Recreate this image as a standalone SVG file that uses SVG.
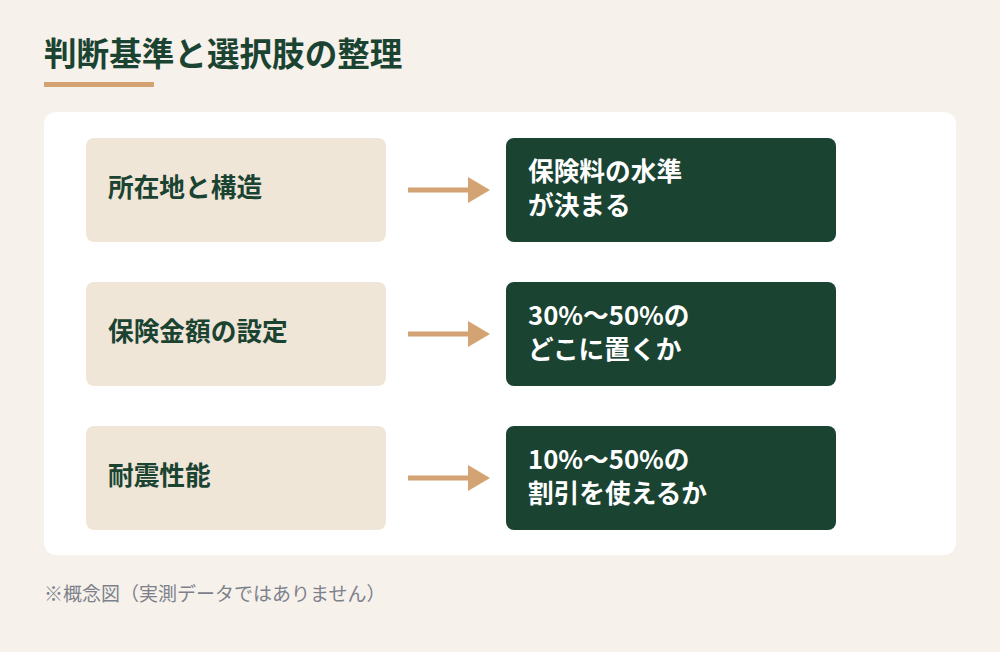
<svg xmlns="http://www.w3.org/2000/svg" width="1000" height="652" viewBox="0 0 1000 652">
<style>
text{font-family:"Noto Sans CJK JP","Noto Sans",sans-serif;font-weight:700}
.lt{font-size:25.7px;fill:#1b4332}
.rt{font-size:25.7px;fill:#ffffff}
.lb{fill:#efe6d8}
.rb{fill:#1b4332}
.ar{stroke:#d4a373;stroke-width:5}
.ah{fill:#d4a373}
</style>
<rect width="1000" height="652" fill="#f6f1ea"/>
<g id="title">
<text x="44" y="66" font-size="32.6" fill="#1b4332">判断基準と選択肢の整理</text>
<rect x="44" y="82" width="110" height="5" fill="#d4a373"/>
</g>
<rect id="panel" x="44" y="112" width="912" height="443" rx="12" fill="#ffffff"/>
<g id="n1"><rect class="lb" x="86" y="138" width="300" height="104" rx="8"/><text class="lt" x="108" y="197">所在地と構造</text></g>
<g id="n2"><rect class="lb" x="86" y="282" width="300" height="104" rx="8"/><text class="lt" x="108" y="341">保険金額の設定</text></g>
<g id="n3"><rect class="lb" x="86" y="426" width="300" height="104" rx="8"/><text class="lt" x="108" y="485">耐震性能</text></g>
<g id="r1"><rect class="rb" x="506" y="138" width="330" height="104" rx="8"/><text class="rt" x="528" y="181">保険料の水準</text><text class="rt" x="528" y="215">が決まる</text></g>
<g id="r2"><rect class="rb" x="506" y="282" width="330" height="104" rx="8"/><text class="rt" x="528" y="325">30%〜50%の</text><text class="rt" x="528" y="359">どこに置くか</text></g>
<g id="r3"><rect class="rb" x="506" y="426" width="330" height="104" rx="8"/><text class="rt" x="528" y="469">10%〜50%の</text><text class="rt" x="528" y="503">割引を使えるか</text></g>
<g id="connectors">
<line class="ar" x1="408" y1="190" x2="470" y2="190"/><polygon class="ah" points="468,177 490,190 468,203"/>
<line class="ar" x1="408" y1="334" x2="470" y2="334"/><polygon class="ah" points="468,321 490,334 468,347"/>
<line class="ar" x1="408" y1="478" x2="470" y2="478"/><polygon class="ah" points="468,465 490,478 468,491"/>
</g>
<text x="44" y="601" font-size="19" fill="#7d818c" style="font-weight:400">※概念図（実測データではありません）</text>
</svg>
